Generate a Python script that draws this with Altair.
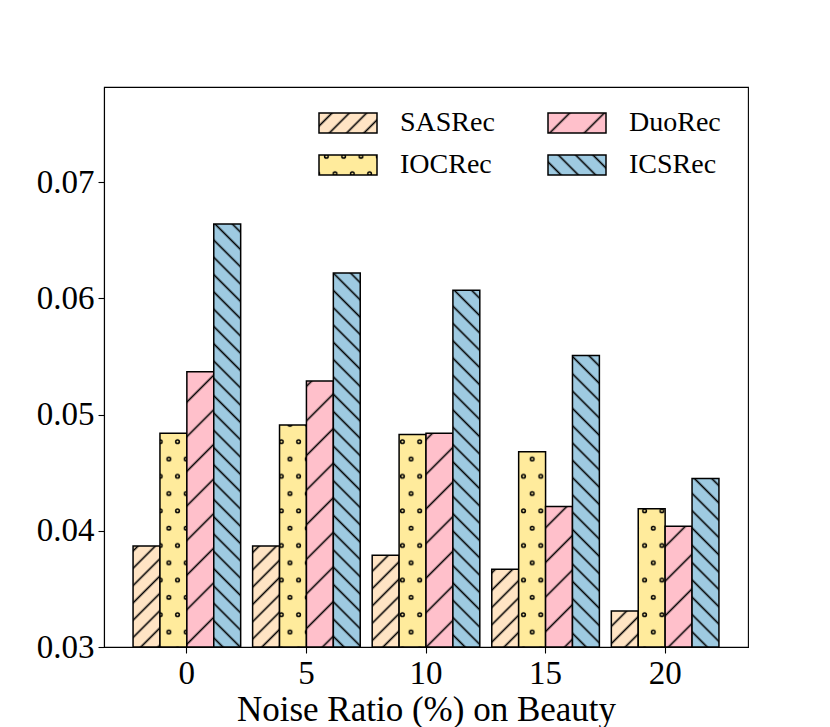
import altair as alt
import pandas as pd
import jinja2

# ---- data ----
noise = ["0", "5", "10", "15", "20"]
methods = ["SASRec", "IOCRec", "DuoRec", "ICSRec"]
sasrec = [0.0387, 0.0387, 0.0379, 0.0367, 0.0331]
iocrec = [0.0484, 0.0491, 0.0483, 0.0468, 0.0419]
duorec = [0.0537, 0.0529, 0.0484, 0.0421, 0.0404]
icsrec = [0.0664, 0.0622, 0.0607, 0.0551, 0.0445]
y_ticks = [0.03, 0.04, 0.05, 0.06, 0.07]

series = {"SASRec": sasrec, "IOCRec": iocrec, "DuoRec": duorec, "ICSRec": icsrec}
rows = []
for m in methods:
    for n, v in zip(noise, series[m]):
        rows.append({"noise": n, "method": m, "value": v})
df = pd.DataFrame(rows)

# ---- styles ----
FONT = "Liberation Serif"
colors = {"SASRec": "#ffe4c4", "IOCRec": "#ffeb9c", "DuoRec": "#ffc0cb", "ICSRec": "#9ecae1"}
pids = {"SASRec": "hatch_sas", "IOCRec": "hatch_ioc", "DuoRec": "hatch_duo", "ICSRec": "hatch_ics"}
HATCH_W = 1.6


def line_pattern(pid, color, axis_spacing, angle):
    p = axis_spacing / 2 ** 0.5
    return (
        f'<pattern id="{pid}" patternUnits="userSpaceOnUse" width="{p:.3f}" height="{p:.3f}" '
        f'patternTransform="rotate({angle})">'
        f'<rect x="-1" y="-1" width="{p + 2:.3f}" height="{p + 2:.3f}" fill="{color}"/>'
        f'<line x1="{p / 2:.3f}" y1="-1" x2="{p / 2:.3f}" y2="{p + 1:.3f}" stroke="#000" stroke-width="{HATCH_W}"/>'
        f"</pattern>"
    )


def dot_pattern(pid, color, s):
    return (
        f'<pattern id="{pid}" patternUnits="userSpaceOnUse" width="{s:.3f}" height="{2 * s:.3f}">'
        f'<rect x="-1" y="-1" width="{s + 2:.3f}" height="{2 * s + 2:.3f}" fill="{color}"/>'
        f'<circle cx="{s / 4:.3f}" cy="{s / 2:.3f}" r="1.8" fill="none" stroke="#000" stroke-width="1.5"/>'
        f'<circle cx="{3 * s / 4:.3f}" cy="{1.5 * s:.3f}" r="1.8" fill="none" stroke="#000" stroke-width="1.5"/>'
        f"</pattern>"
    )


defs = (
    line_pattern(pids["SASRec"], colors["SASRec"], 17.3, 45)
    + dot_pattern(pids["IOCRec"], colors["IOCRec"], 17.3)
    + line_pattern(pids["DuoRec"], colors["DuoRec"], 34.6, 45)
    + line_pattern(pids["ICSRec"], colors["ICSRec"], 17.3, -45)
)

TEMPLATE = jinja2.Template(
    """<!DOCTYPE html>
<html>
<head>
<meta charset="utf-8">
<style>
#{{ output_div }}.vega-embed { width: 100%; display: flex; }
#{{ output_div }}.vega-embed details, #{{ output_div }}.vega-embed details summary { position: relative; }
</style>
<script type="text/javascript" src="{{ base_url }}/vega@{{ vega_version }}"></script>
<script type="text/javascript" src="{{ base_url }}/vega-lite@{{ vegalite_version }}"></script>
<script type="text/javascript" src="{{ base_url }}/vega-embed@{{ vegaembed_version }}"></script>
</head>
<body>
<svg width="0" height="0" style="position:absolute;left:0;top:0" aria-hidden="true"><defs>__DEFS__</defs></svg>
<div id="{{ output_div }}"></div>
<script type="text/javascript">
  vegaEmbed("#{{ output_div }}", {{ spec }}, {{ embed_options }}).catch(function(err) {
    document.getElementById("{{ output_div }}").innerHTML = '<div class="error" style="color:red;">' + err + '</div>';
  });
</script>
</body>
</html>
""".replace("__DEFS__", defs)
)

# legend is filled column by column -> domain in bar order gives
# row 1: SASRec, DuoRec ; row 2: IOCRec, ICSRec
color_range = [f"url(#{pids[m]})" for m in methods]

chart = (
    alt.Chart(df)
    .mark_bar(stroke="black", strokeWidth=1.5, clip=True)
    .encode(
        x=alt.X(
            "noise:N",
            sort=noise,
            scale=alt.Scale(paddingInner=0.1, paddingOuter=0.243),
            axis=alt.Axis(
                title="Noise Ratio (%) on Beauty",
                labelAngle=0,
                labelPadding=4,
                titlePadding=2,
            ),
        ),
        xOffset=alt.XOffset("method:N", sort=methods, scale=alt.Scale(paddingInner=0, paddingOuter=0)),
        y=alt.Y(
            "value:Q",
            scale=alt.Scale(domain=[0.03, 0.0782], nice=False, zero=False),
            axis=alt.Axis(values=y_ticks, format=".2f", title=None, labelPadding=4),
        ),
        y2=alt.datum(0.03),
        color=alt.Color(
            "method:N",
            scale=alt.Scale(domain=methods, range=color_range),
            legend=alt.Legend(
                title=None,
                orient="none",
                legendX=214,
                legendY=25,
                columns=2,
                symbolType="M-1,-0.345H1V0.345H-1Z",
                symbolSize=3364,
                symbolStrokeColor="black",
                symbolStrokeWidth=1.5,
                symbolOpacity=1,
                labelFont=FONT,
                labelFontSize=28,
                labelColor="black",
                labelOffset=22,
                columnPadding=52,
                rowPadding=14,
                clipHeight=22,
            ),
        ),
    )
    .properties(width=644, height=560, padding={"left": 28, "top": 79, "right": 5, "bottom": 0})
    .configure_view(stroke="black", strokeWidth=1.1)
    .configure_axis(
        grid=False,
        labelFont=FONT,
        labelFontSize=33,
        labelColor="black",
        titleFont=FONT,
        titleFontSize=35,
        titleFontWeight="normal",
        titleColor="black",
        tickColor="black",
        tickSize=6,
        tickWidth=1.1,
        domainColor="black",
        domainWidth=1.1,
    )
)

chart.save("out.html", embed_options={"renderer": "svg", "actions": False}, template=TEMPLATE)
